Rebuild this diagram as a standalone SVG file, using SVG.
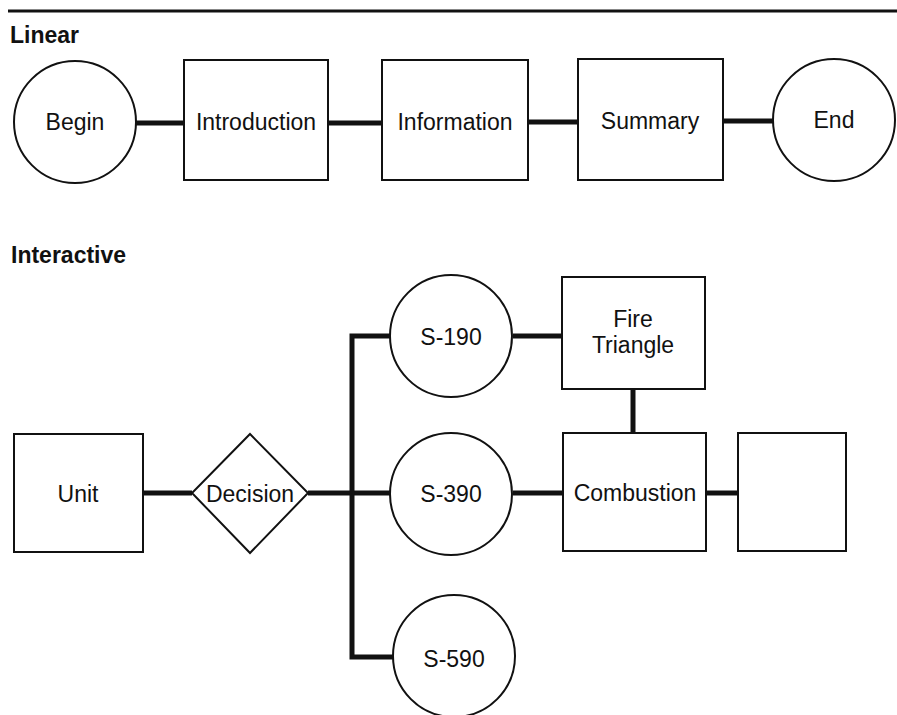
<svg xmlns="http://www.w3.org/2000/svg" width="897" height="715" viewBox="0 0 897 715">
<style>
.n{fill:#fff;stroke:#111;stroke-width:2}
.c{fill:none;stroke:#111;stroke-width:5;stroke-linejoin:miter;stroke-linecap:butt}
.t{font-family:"Liberation Sans",Arial,sans-serif;font-size:23px;fill:#111;text-anchor:middle}
.h{font-family:"Liberation Sans",Arial,sans-serif;font-size:23px;font-weight:bold;fill:#111}
</style>
<rect width="897" height="715" fill="#fff"/>
<line x1="8" y1="11" x2="897" y2="11" stroke="#111" stroke-width="3"/>
<text class="h" x="10" y="43">Linear</text>
<text class="h" x="11" y="263">Interactive</text>
<g id="connectors">
<line class="c" x1="136" y1="123" x2="184" y2="123"/>
<line class="c" x1="328" y1="123" x2="382" y2="123"/>
<line class="c" x1="528" y1="122" x2="578" y2="122"/>
<line class="c" x1="723" y1="121" x2="773" y2="121"/>
<line class="c" x1="143" y1="493" x2="192" y2="493"/>
<line class="c" x1="308" y1="493" x2="390" y2="493"/>
<polyline class="c" points="390,336 352,336 352,657 393,657"/>
<line class="c" x1="513" y1="336" x2="562" y2="336"/>
<line class="c" x1="513" y1="493" x2="563" y2="493"/>
<line class="c" x1="633" y1="389" x2="633" y2="433"/>
<line class="c" x1="706" y1="493" x2="738" y2="493"/>
</g>
<g id="begin"><circle class="n" cx="75" cy="122" r="61"/><text class="t" x="75" y="130">Begin</text></g>
<g id="introduction"><rect class="n" x="184" y="60" width="144" height="120"/><text class="t" x="256" y="130">Introduction</text></g>
<g id="information"><rect class="n" x="382" y="60" width="146" height="120"/><text class="t" x="455" y="130">Information</text></g>
<g id="summary"><rect class="n" x="578" y="59" width="145" height="121"/><text class="t" x="650" y="129">Summary</text></g>
<g id="end"><circle class="n" cx="834" cy="120" r="61"/><text class="t" x="834" y="128">End</text></g>
<g id="unit"><rect class="n" x="14" y="434" width="129" height="118"/><text class="t" x="78" y="502">Unit</text></g>
<g id="decision"><polygon class="n" points="250,434 308,493 250,553 192,493"/><text class="t" x="250" y="502">Decision</text></g>
<g id="s190"><circle class="n" cx="451" cy="336" r="61"/><text class="t" x="451" y="345">S-190</text></g>
<g id="s390"><circle class="n" cx="451" cy="494" r="61"/><text class="t" x="451" y="502">S-390</text></g>
<g id="s590"><circle class="n" cx="454" cy="656" r="61"/><text class="t" x="454" y="667">S-590</text></g>
<g id="fire-triangle"><rect class="n" x="562" y="277" width="143" height="112"/><text class="t" x="633" y="327">Fire</text><text class="t" x="633" y="353">Triangle</text></g>
<g id="combustion"><rect class="n" x="563" y="433" width="143" height="118"/><text class="t" x="635" y="501">Combustion</text></g>
<g id="blank"><rect class="n" x="738" y="433" width="108" height="118"/></g>
</svg>
